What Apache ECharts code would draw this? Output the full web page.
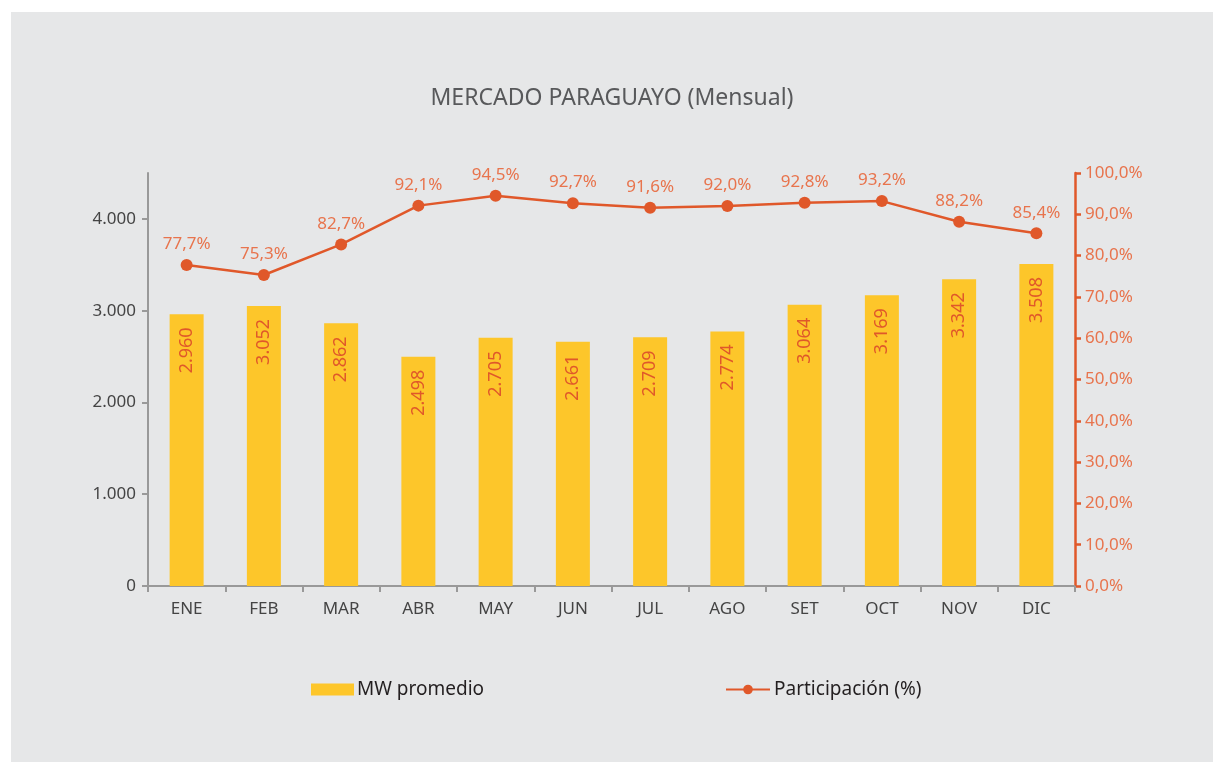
<!DOCTYPE html>
<html>
<head>
<meta charset="utf-8">
<script src="https://cdn.jsdelivr.net/npm/echarts@6/dist/echarts.min.js"></script>
<style>
  html, body { margin: 0; padding: 0; background: #ffffff; }
  #chart { position: absolute; left: 11px; top: 12px; width: 1202px; height: 750px; background: #e6e7e8; }
</style>
</head>
<body>
<div id="chart"></div>
<script>
// datos mensuales
const meses = ['ENE', 'FEB', 'MAR', 'ABR', 'MAY', 'JUN', 'JUL', 'AGO', 'SET', 'OCT', 'NOV', 'DIC'];
const mwPromedio = [2960, 3052, 2862, 2498, 2705, 2661, 2709, 2774, 3064, 3169, 3342, 3508];
const participacion = [77.7, 75.3, 82.7, 92.1, 94.5, 92.7, 91.6, 92.0, 92.8, 93.2, 88.2, 85.4];
const ticksMW = [0, 1000, 2000, 3000, 4000];

const fuente = '"Noto Sans", sans-serif';
const naranja = '#e0582a';

function miles(v) {
  return String(v).replace(/\B(?=(\d{3})+(?!\d))/g, '.');
}
function pct(v) {
  return v.toFixed(1).replace('.', ',') + '%';
}

let chart = echarts.init(document.getElementById('chart'));
chart.setOption({
  backgroundColor: '#e6e7e8',
  animation: false,
  title: {
    text: 'MERCADO PARAGUAYO (Mensual)',
    left: 'center',
    top: 70,
    textStyle: { fontFamily: fuente, fontSize: 23, fontWeight: 'normal', color: '#58595b' }
  },
  legend: [{
    data: ['MW promedio'],
    left: 295,
    top: 663,
    itemWidth: 43,
    itemHeight: 12,
    icon: 'rect',
    textStyle: { fontFamily: fuente, fontSize: 19, color: '#231f20', padding: [0, 0, 0, -2] }
  }, {
    data: ['Participación (%)'],
    left: 709,
    top: 663,
    itemWidth: 44,
    itemHeight: 12,
    textStyle: { fontFamily: fuente, fontSize: 19, color: '#231f20', padding: [0, 0, 0, -1] }
  }],
  grid: { left: 137, right: 138, top: 161, bottom: 176 },
  xAxis: {
    type: 'category',
    data: meses,
    axisLine: { lineStyle: { color: '#999999', width: 2 } },
    axisTick: { show: true, length: 6, lineStyle: { color: '#999999', width: 2 } },
    axisLabel: { fontFamily: fuente, fontSize: 17, color: '#444444', margin: 15 }
  },
  yAxis: [{
    type: 'value',
    min: 0,
    max: 4500,
    interval: 500,
    splitLine: { show: false },
    axisLine: { show: true, lineStyle: { color: '#999999', width: 2 } },
    axisTick: { show: true, length: 6, customValues: ticksMW, lineStyle: { color: '#999999', width: 2 } },
    axisLabel: {
      fontFamily: fuente, fontSize: 17, color: '#444444', margin: 12,
      customValues: ticksMW,
      formatter: miles
    }
  }, {
    type: 'value',
    min: 0,
    max: 100,
    interval: 10,
    splitLine: { show: false },
    axisLine: { show: true, lineStyle: { color: naranja, width: 2.5 } },
    axisTick: { show: true, length: 6, lineStyle: { color: naranja, width: 2.5 } },
    axisLabel: {
      fontFamily: fuente, fontSize: 17, color: '#e8744d', margin: 10,
      formatter: function (v) { return pct(v); }
    }
  }],
  series: [{
    name: 'MW promedio',
    type: 'bar',
    data: mwPromedio,
    barWidth: 34,
    itemStyle: { color: '#fdc62a' },
    label: {
      show: true,
      position: 'insideTop',
      rotate: 90,
      align: 'right',
      verticalAlign: 'middle',
      distance: 13,
      fontFamily: fuente,
      fontSize: 18,
      color: naranja,
      formatter: function (p) { return miles(p.value); }
    }
  }, {
    name: 'Participación (%)',
    type: 'line',
    yAxisIndex: 1,
    data: participacion,
    symbol: 'circle',
    symbolSize: 12,
    lineStyle: { color: naranja, width: 2.5 },
    itemStyle: { color: naranja },
    label: {
      show: true,
      position: 'top',
      distance: 6,
      fontFamily: fuente,
      fontSize: 17,
      color: '#e8744d',
      formatter: function (p) { return pct(p.value); }
    }
  }]
});
</script>
</body>
</html>
